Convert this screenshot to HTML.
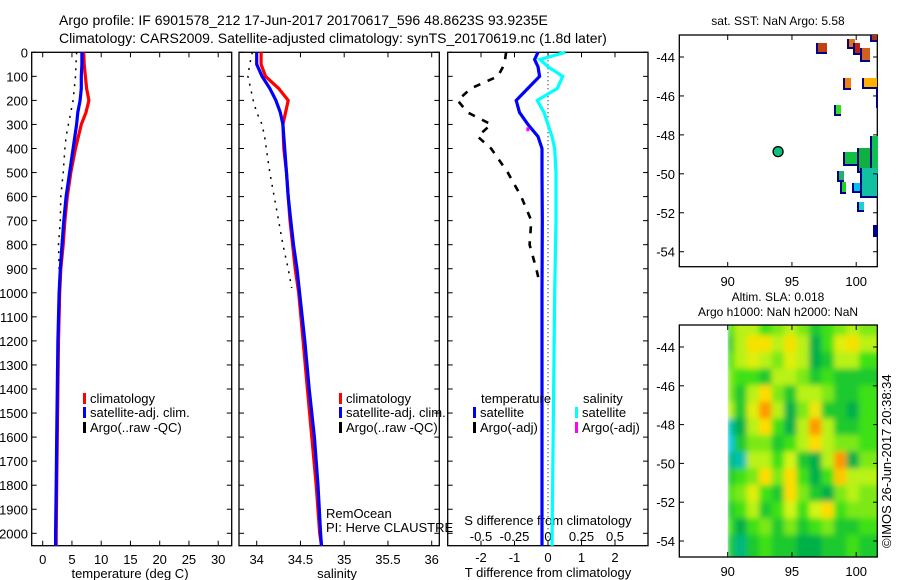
<!DOCTYPE html>
<html><head><meta charset="utf-8"><style>
body{margin:0;background:#fff}
svg{display:block;font-family:"Liberation Sans",sans-serif}
text{fill:#000}
</style></head><body>
<svg id="c" width="900" height="580" viewBox="0 0 900 580" xmlns="http://www.w3.org/2000/svg">
<defs>
<filter id="blur" x="0" y="0" width="1" height="1"><feGaussianBlur stdDeviation="3"/></filter>
<clipPath id="hmclip"><rect x="727.7" y="325" width="149.6" height="232"/></clipPath>
</defs>
<text x="59" y="25" font-size="14">Argo profile: IF 6901578_212 17-Jun-2017 20170617_596 48.8623S 93.9235E</text>
<text x="59" y="43" font-size="14">Climatology: CARS2009. Satellite-adjusted climatology: synTS_20170619.nc (1.8d later)</text>
<g id="g"></g>
</svg>
<script>
// ---------- data ----------
const climDepth = [0,50,100,150,200,250,300,400,500,600,700,800,900,1000,1200,1400,1600,1800,2000,2052];
const climTemp  = [7.0,7.1,7.3,7.5,7.9,7.4,6.6,5.6,4.8,4.2,3.8,3.5,3.1,2.9,2.7,2.6,2.5,2.4,2.3,2.3];
const satTemp   = [6.7,6.7,6.6,6.6,6.4,6.0,5.8,5.2,4.6,4.0,3.6,3.3,3.0,2.8,2.6,2.5,2.4,2.3,2.2,2.2];
const argoDepth = [0,50,100,150,200,250,300,350,400,500,600,700,800,900,980];
const argoTemp  = [5.8,5.7,5.6,5.4,5.2,4.8,4.4,4.0,3.8,3.5,3.1,3.0,2.7,2.8,2.9];
const climSal   = [34.05,34.05,34.1,34.25,34.36,34.33,34.3,34.31,34.34,34.36,34.38,34.41,34.44,34.48,34.53,34.58,34.63,34.68,34.72,34.74];
const satSal    = [34.0,34.0,34.06,34.15,34.22,34.27,34.3,34.32,34.34,34.36,34.39,34.42,34.46,34.49,34.55,34.6,34.66,34.7,34.73,34.74];
const argoSal   = [33.95,33.92,33.9,33.93,33.96,34.0,34.06,34.09,34.11,34.15,34.2,34.25,34.3,34.36,34.4];
const diffDepth = [0,30,60,100,150,200,250,300,350,400,500,700,1000,1500,2052];
const satTdiff  = [-0.3,-0.4,-0.3,-0.25,-0.6,-0.95,-0.85,-0.6,-0.3,-0.18,-0.18,-0.17,-0.18,-0.18,-0.18];
const satSdiff  = [0.13,-0.06,0.0,0.11,0.07,-0.08,-0.03,0.0,0.03,0.05,0.06,0.06,0.05,0.04,0.03];
const argoTdiffDepth = [0,50,100,150,200,250,300,350,400,500,600,700,800,900,960];
const argoTdiff = [-1.25,-1.3,-1.5,-2.3,-2.7,-2.4,-1.7,-2.1,-1.7,-1.2,-0.8,-0.5,-0.55,-0.35,-0.25];
const argoSdiffDepth = [320];
const argoSdiff = [-0.15];
const depthTicks = [0,100,200,300,400,500,600,700,800,900,1000,1100,1200,1300,1400,1500,1600,1700,1800,1900,2000];
const tempTicks = [0,5,10,15,20,25,30];
const salTicks = [34,34.5,35,35.5,36];
const tdTicks = [-2,-1,0,1,2];
const sdTicks = [-0.5,-0.25,0,0.25,0.5];
const sdTickLabels = ["-0.5","-0.25","0","0.25","0.5"];
const argoLon = [93.92];
const argoLat = [-48.86];
const latTicks = [-44,-46,-48,-50,-52,-54];
const lonTicks = [90,95,100];
const slaGrid = [
[.5,.6,.6,.5,.55,.6,.55,.45,.5,.55,.6,.55],
[.45,.6,.7,.7,.6,.7,.6,.4,.5,.65,.7,.6],
[.5,.6,.65,.6,.55,.65,.6,.4,.45,.6,.6,.5],
[.55,.5,.5,.45,.6,.6,.55,.45,.5,.45,.45,.45],
[.55,.45,.6,.72,.55,.45,.6,.6,.55,.45,.45,.5],
[.6,.45,.65,.82,.6,.4,.55,.68,.45,.45,.4,.5],
[.3,.4,.6,.72,.5,.4,.6,.82,.6,.45,.45,.5],
[.25,.45,.55,.55,.45,.5,.6,.72,.6,.55,.55,.5],
[.35,.3,.6,.6,.5,.62,.45,.4,.6,.82,.4,.55],
[.45,.5,.55,.72,.55,.72,.5,.4,.5,.75,.6,.6],
[.5,.55,.65,.5,.45,.72,.55,.45,.4,.55,.6,.55],
[.45,.5,.6,.45,.5,.62,.5,.62,.72,.5,.55,.55],
[.5,.4,.5,.55,.45,.55,.45,.5,.55,.45,.45,.5],
[.45,.35,.45,.5,.45,.45,.4,.4,.45,.45,.5,.45]];

// ---------- scales ----------
const dy = d => 52.3 + 0.2405*d;
const tx = t => 42.7 + 5.85*t;
const sx = s => 256.7 + 87.5*(s-34);
const tdx = t => 548 + 33.5*t;
const sdx = s => 548 + 134*s;
const mx = lon => 727.7 + 12.85*(lon-90);
const my1 = lat => 57 + 19.47*(-44-lat);
const my2 = lat => 347 + 19.4*(-44-lat);

const NS="http://www.w3.org/2000/svg";
const G=document.getElementById('g');
function el(tag, at, parent){const e=document.createElementNS(NS,tag);for(const k in at)e.setAttribute(k,at[k]);(parent||G).appendChild(e);return e;}
function txt(x,y,s,size,anchor){const e=el('text',{x:x,y:y,'font-size':size||12,'text-anchor':anchor||'start'});e.textContent=s;return e;}
function line(xs,ys,color,w,dash){let p=xs.map((x,i)=>x.toFixed(1)+','+ys[i].toFixed(1)).join(' ');const a={points:p,fill:'none',stroke:color,'stroke-width':w};if(dash)a['stroke-dasharray']=dash;return el('polyline',a);}

// ---------- panel frames ----------
const panels=[[31.7,231.7],[239,439.3],[447.7,648]];
const pTop=52.3,pBot=545.7;
panels.forEach((p,i)=>{
  const r=el('rect',{x:p[0],y:pTop,width:p[1]-p[0],height:pBot-pTop,fill:'none',stroke:'#000','stroke-width':1.3});
  
  
  depthTicks.forEach(d=>{
    el('line',{x1:p[0],x2:p[0]+5,y1:dy(d),y2:dy(d),stroke:'#000'});
    el('line',{x1:p[1],x2:p[1]-5,y1:dy(d),y2:dy(d),stroke:'#000'});
  });
});
depthTicks.forEach(d=>{
  const q=txt(28,dy(d)+5,String(d),13,'end');
  
  
});
function xTicks(vals,f,labels,ly){vals.forEach((v,i)=>{
  el('line',{x1:f(v),x2:f(v),y1:pBot,y2:pBot-5,stroke:'#000'});
  el('line',{x1:f(v),x2:f(v),y1:pTop,y2:pTop+5,stroke:'#000'});
  if(labels){const q=txt(f(v),ly,labels[i],13,'middle');
    
    }
});}
xTicks(tempTicks,tx,tempTicks.map(String),564);
xTicks(salTicks,sx,salTicks.map(String),564);
xTicks(tdTicks,tdx,tdTicks.map(String),562);
sdTicks.forEach((v,i)=>{const q=txt(sdx(v),541,sdTickLabels[i],13,'middle');
  
  });
let t;
t=txt(130,578,'temperature (deg C)',13,'middle');
t=txt(337,578,'salinity',13,'middle');
t=txt(548,577,'T difference from climatology',13,'middle');
t=txt(548,525,'S difference from climatology',13,'middle');
t=txt(326,518,'RemOcean',13);
t=txt(326,532,'PI: Herve CLAUSTRE',13);

// ---------- panel 1 ----------
let s;
s=line(argoDepth.map((d,i)=>tx(argoTemp[i])),argoDepth.map(dy),'#000',1.5,'2,6');
s=line(climDepth.map((d,i)=>tx(climTemp[i])),climDepth.map(dy),'#f00',3.2);
s=line(climDepth.map((d,i)=>tx(satTemp[i])),climDepth.map(dy),'#00f',3.2);
// ---------- panel 2 ----------
s=line(argoDepth.map((d,i)=>sx(argoSal[i])),argoDepth.map(dy),'#000',1.5,'2,6');
s=line(climDepth.map((d,i)=>sx(climSal[i])),climDepth.map(dy),'#f00',3.2);
s=line(climDepth.map((d,i)=>sx(satSal[i])),climDepth.map(dy),'#00f',3.2);
// ---------- panel 3 ----------
s=el('line',{x1:tdx(0),x2:tdx(0),y1:pTop,y2:pBot,stroke:'#000','stroke-dasharray':'1,3'});
s=line(diffDepth.map((d,i)=>sdx(satSdiff[i])),diffDepth.map(dy),'#0ff',3.2);
s=line(diffDepth.map((d,i)=>tdx(satTdiff[i])),diffDepth.map(dy),'#00f',3.2);
s=line(argoTdiffDepth.map((d,i)=>tdx(argoTdiff[i])),argoTdiffDepth.map(dy),'#000',2.6,'7,8');
argoSdiffDepth.forEach((d,i)=>{const r=el('rect',{x:sdx(argoSdiff[i])-1.5,y:dy(d)-2,width:3,height:4,fill:'#f0f'});
  });

// ---------- legends ----------
function leg(x,y,color,label,name){const g=el('g',{});
  el('rect',{x:x,y:y-10,width:3,height:11,fill:color},g);
  const tt=el('text',{x:x+7,y:y,'font-size':13},g);tt.textContent=label;}
leg(83,403,'#f00','climatology','legend-entry-climatology');
leg(83,417,'#00f','satellite-adj. clim.','legend-entry-satellite');
leg(83,432,'#000','Argo(..raw -QC)','legend-entry-argo');
leg(339,403,'#f00','climatology','legend-entry-climatology-2');
leg(339,417,'#00f','satellite-adj. clim.','legend-entry-satellite-2');
leg(339,432,'#000','Argo(..raw -QC)','legend-entry-argo-2');
t=txt(481,403,'temperature',13);
t=txt(583,403,'salinity',13);
leg(473,417,'#00f','satellite','legend-entry-t-satellite');
leg(473,432,'#000','Argo(-adj)','legend-entry-t-argo');
leg(575,417,'#0ff','satellite','legend-entry-s-satellite');
leg(575,432,'#f0f','Argo(-adj)','legend-entry-s-argo');

// ---------- map 1 (SST) ----------
s=el('rect',{x:679.3,y:35,width:198,height:231.7,fill:'none',stroke:'#000','stroke-width':1.3});
const patches=[[816,43,11,11,'#c04010'],[847,39,8,10,'#e07010'],[853,43,7,12,'#c02010'],[860,48,10,14,'#d06020'],[870,35,7,7,'#b03010'],
[843,78,8,12,'#f08010'],[862,78,15,11,'#ffb000'],[876,88,2,20,'#000080'],[834,105,7,11,'#30e020'],[843,152,16,14,'#10c040'],
[857,148,20,25,'#10b040'],[870,136,8,40,'#10c050'],[837,171,7,11,'#20b070'],[840,182,6,12,'#20d020'],[852,183,22,10,'#00c0f0'],
[860,168,17,30,'#10c0a0'],[857,202,7,10,'#20d0d0'],[873,225,5,12,'#000080']];
patches.forEach(p=>{const g=el('g',{});
  el('rect',{x:p[0],y:p[1],width:p[2],height:p[3],fill:'#000080'},g);
  el('rect',{x:p[0]+2,y:p[1],width:Math.max(p[2]-2,0),height:p[3]-2,fill:p[4]},g);});
argoLon.forEach((lo,i)=>{const c=el('circle',{cx:mx(lo),cy:my1(argoLat[i]),r:5,fill:'#10c080',stroke:'#000','stroke-width':1.3});
  });
latTicks.forEach(l=>{el('line',{x1:679.3,x2:684,y1:my1(l),y2:my1(l),stroke:'#000'});el('line',{x1:877.3,x2:873,y1:my1(l),y2:my1(l),stroke:'#000'});
  const q=txt(675,my1(l)+5,String(l),13,'end');});
lonTicks.forEach(l=>{el('line',{x1:mx(l),x2:mx(l),y1:266.7,y2:262,stroke:'#000'});el('line',{x1:mx(l),x2:mx(l),y1:35,y2:40,stroke:'#000'});
  const q=txt(mx(l),286,String(l),13,'middle');});
t=txt(778,25,'sat. SST: NaN Argo: 5.58',12,'middle');
t=txt(778,301,'Altim. SLA: 0.018',12,'middle');
t=txt(778,316,'Argo h1000: NaN h2000: NaN',12,'middle');

// ---------- map 2 (SLA heatmap) ----------
const stops=[[0.25,[0,200,230]],[0.4,[0,176,72]],[0.5,[60,225,20]],[0.62,[210,245,20]],[0.72,[255,220,0]],[0.85,[255,130,0]]];
function cmap(v){if(v<=stops[0][0])return stops[0][1];for(let i=1;i<stops.length;i++){if(v<=stops[i][0]){const a=stops[i-1],b=stops[i],f=(v-a[0])/(b[0]-a[0]);return a[1].map((c,k)=>Math.round(c+(b[1][k]-c)*f));}}return stops[stops.length-1][1];}
const hmOuter=el('g',{'clip-path':'url(#hmclip)'});


const hm=el('g',{filter:'url(#blur)'},hmOuter);
const nR=slaGrid.length,nC=slaGrid[0].length;
const latTop=-42.85,latBot=-54.85,lonL=90,lonR=101.65;
slaGrid.forEach((row,r)=>row.forEach((v,c)=>{
  const x0=mx(lonL+(lonR-lonL)*c/nC)-6,x1=mx(lonL+(lonR-lonL)*(c+1)/nC)+6;
  const y0=my2(latTop+(latBot-latTop)*r/nR)-6,y1=my2(latTop+(latBot-latTop)*(r+1)/nR)+6;
  const col=cmap(v);
  const cell=el('rect',{x:c===0?x0+6:x0,y:y0,width:(c===0?x1-x0-6:x1-x0),height:y1-y0,fill:'rgb('+col.join(',')+')'},hm);
  
  
}));
s=el('rect',{x:679.3,y:325,width:198,height:232,fill:'none',stroke:'#000','stroke-width':1.3});
latTicks.forEach(l=>{el('line',{x1:679.3,x2:684,y1:my2(l),y2:my2(l),stroke:'#000'});el('line',{x1:877.3,x2:873,y1:my2(l),y2:my2(l),stroke:'#000'});
  const q=txt(675,my2(l)+5,String(l),13,'end');});
lonTicks.forEach(l=>{el('line',{x1:mx(l),x2:mx(l),y1:557,y2:552,stroke:'#000'});el('line',{x1:mx(l),x2:mx(l),y1:325,y2:330,stroke:'#000'});
  const q=txt(mx(l),576,String(l),13,'middle');});
t=el('text',{x:0,y:0,'font-size':13,transform:'translate(891,548) rotate(-90)'});
t.textContent='©IMOS 26-Jun-2017 20:38:34';


</script>
</body></html>
